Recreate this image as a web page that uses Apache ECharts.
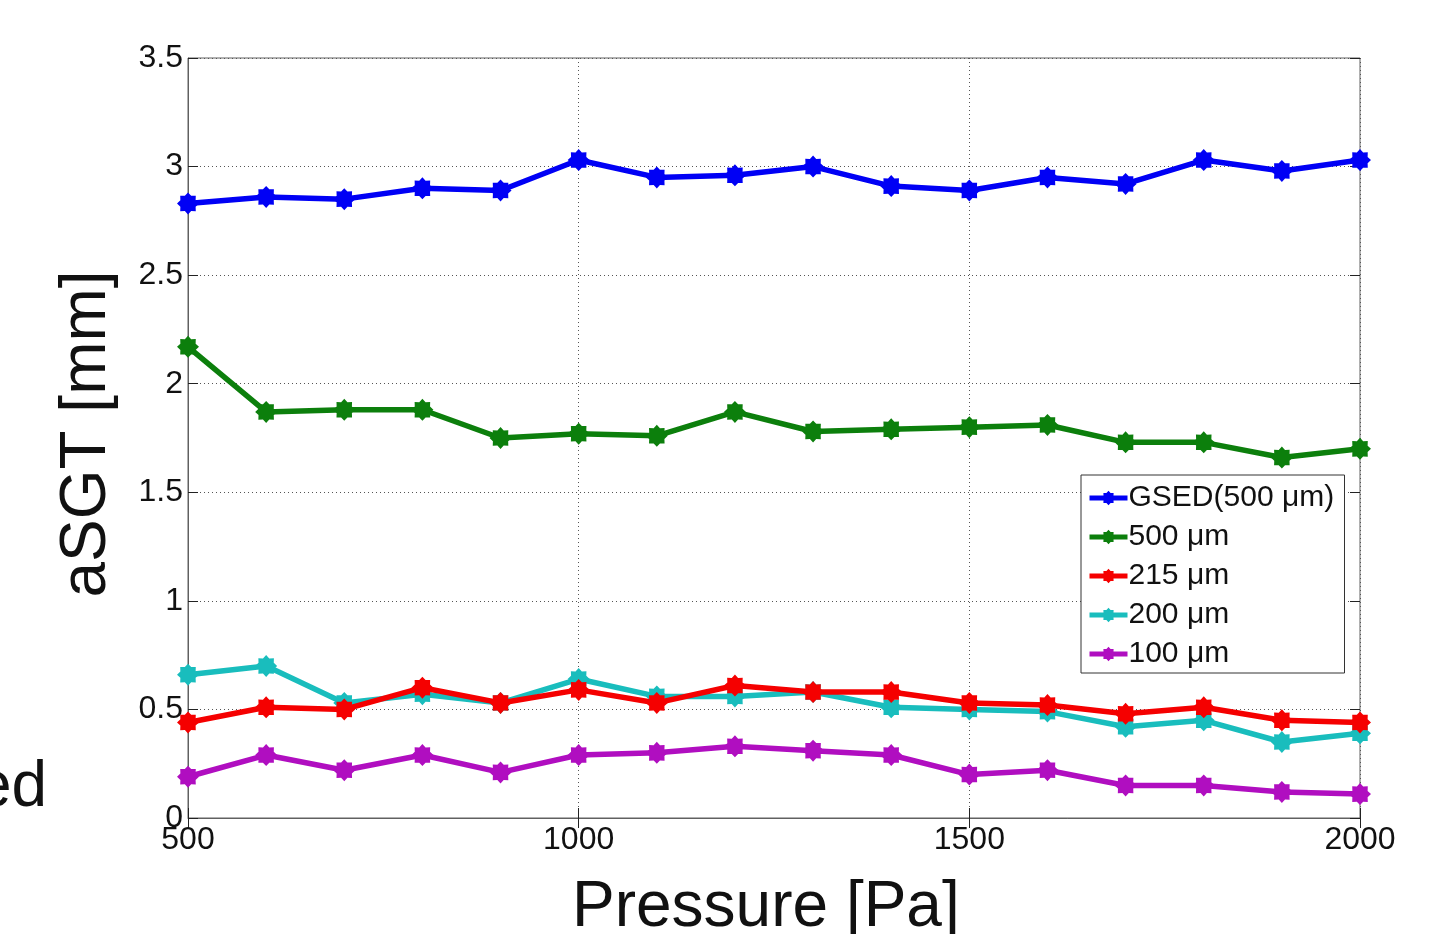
<!DOCTYPE html>
<html><head><meta charset="utf-8">
<script src="https://cdn.jsdelivr.net/npm/echarts@6/dist/echarts.min.js"></script>
<style>html,body{margin:0;padding:0;background:#fff}#c{width:1451px;height:934px}</style>
</head><body><div id="c"></div>
<script>
const pressure = [500,600,700,800,900,1000,1100,1200,1300,1400,1500,1600,1700,1800,1900,2000];
const gsed500 = [2.83,2.86,2.85,2.90,2.89,3.03,2.95,2.96,3.00,2.91,2.89,2.95,2.92,3.03,2.98,3.03];
const um500 = [2.17,1.87,1.88,1.88,1.75,1.77,1.76,1.87,1.78,1.79,1.80,1.81,1.73,1.73,1.66,1.70];
const um215 = [0.44,0.51,0.50,0.60,0.53,0.59,0.53,0.61,0.58,0.58,0.53,0.52,0.48,0.51,0.45,0.44];
const um200 = [0.66,0.70,0.53,0.57,0.53,0.64,0.56,0.56,0.58,0.51,0.50,0.49,0.42,0.45,0.35,0.39];
const um100 = [0.19,0.29,0.22,0.29,0.21,0.29,0.30,0.33,0.31,0.29,0.20,0.22,0.15,0.15,0.12,0.11];
const seriesNames = ['GSED(500 μm)','500 μm','215 μm','200 μm','100 μm'];
const seriesColors = ['#0000F5','#0C7F0C','#F50000','#19BDBD','#B00EC0'];
const xTicks = [500,1000,1500,2000];

// starburst marker path
function starPath(){
  let pts=[]; const n=16;
  for(let i=0;i<n;i++){const a=Math.PI*2*i/n; const r=(i%2===0)?10:7.5;
    pts.push((10+r*Math.cos(a)).toFixed(2)+' '+(10+r*Math.sin(a)).toFixed(2));}
  return 'path://M'+pts.join(' L')+' Z';
}
const sym = starPath();
const font = 'Liberation Sans, Arial, sans-serif';
const allData = [gsed500, um500, um215, um200, um100];

const chart = echarts.init(document.getElementById('c'), null, {renderer:'canvas'});
chart.setOption({
  animation:false,
  backgroundColor:'#fff',
  grid:{left:188,right:91,top:58,bottom:116,show:true,borderColor:'#606060',borderWidth:1},
  legend:{
    orient:'vertical', left:1081, top:475, width:264,
    backgroundColor:'#fff', borderColor:'#333', borderWidth:1,
    padding:[8,6,4,6], itemGap:9, itemWidth:38, itemHeight:18,
    lineStyle:{width:5},
    textStyle:{fontFamily:font,fontSize:30,color:'#111',lineHeight:30,width:210,padding:[0,0,0,-4]},
    data:seriesNames
  },
  xAxis:[{
    type:'value', min:500, max:2000, interval:500,
    axisLine:{show:true,onZero:false,lineStyle:{color:'#606060',width:1}},
    axisTick:{show:true,inside:true,length:10,lineStyle:{color:'#222'}},
    axisLabel:{fontFamily:font,fontSize:32,color:'#111',margin:6,
      formatter:v=>xTicks.includes(v)?String(v):''},
    splitLine:{show:true,lineStyle:{color:'#555',type:[1,3],width:1}}
  },{
    type:'value', min:500, max:2000, interval:500, position:'top',
    axisLine:{show:false}, axisTick:{show:true,inside:true,length:10,lineStyle:{color:'#222'}},
    axisLabel:{show:false}, splitLine:{show:false}
  }],
  yAxis:[{
    type:'value', min:0, max:3.5, interval:0.5,
    axisLine:{show:true,onZero:false,lineStyle:{color:'#606060',width:1}},
    axisTick:{show:true,inside:true,length:10,lineStyle:{color:'#222'}},
    axisLabel:{fontFamily:font,fontSize:32,color:'#111',margin:5,formatter:v=>String(v)},
    splitLine:{show:true,lineStyle:{color:'#555',type:[1,3],width:1}}
  },{
    type:'value', min:0, max:3.5, interval:0.5, position:'right',
    axisLine:{show:false}, axisTick:{show:true,inside:true,length:10,lineStyle:{color:'#222'}},
    axisLabel:{show:false}, splitLine:{show:false}
  }],
  series: seriesNames.map((name,i)=>({
    name:name, type:'line', xAxisIndex:0, yAxisIndex:0,
    data: pressure.map((p,k)=>[p, allData[i][k]]),
    symbol:sym, symbolSize:22, showSymbol:true,
    lineStyle:{color:seriesColors[i],width:5.5},
    itemStyle:{color:seriesColors[i]},
    z: 10-i
  })),
  graphic:[
    {type:'text', left:572, top:876, style:{text:'Pressure [Pa]',fontFamily:font,fontSize:64,fill:'#111'}},
    {type:'text', x:55, y:434, rotation:Math.PI/2, style:{text:'aSGT [mm]',fontFamily:font,fontSize:64,fill:'#111',align:'center',verticalAlign:'top'}},
    {type:'text', left:-24, top:756, style:{text:'ed',fontFamily:font,fontSize:64,fill:'#111'}}
  ]
});
</script></body></html>
